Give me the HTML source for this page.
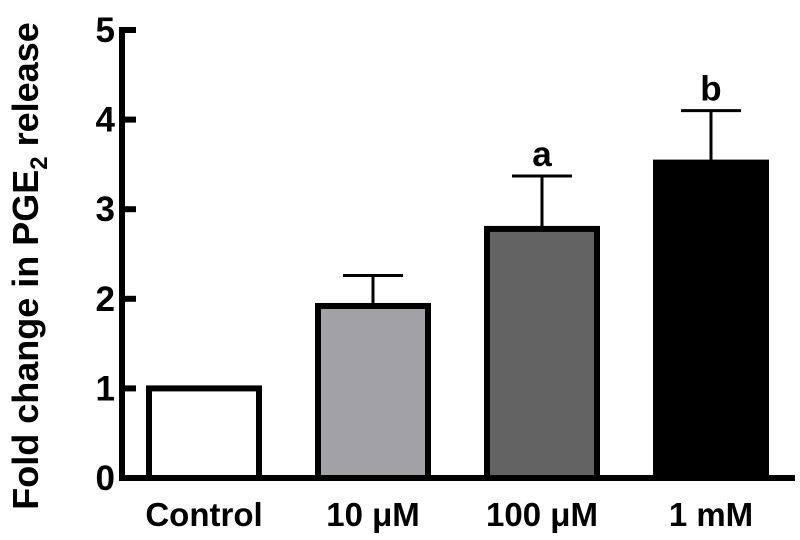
<!DOCTYPE html>
<html><head><meta charset="utf-8"><style>
html,body{margin:0;padding:0;background:#fff;}
svg text{font-family:"Liberation Sans",Arial,sans-serif;font-weight:bold;fill:#000;}
</style></head><body>
<svg width="800" height="535" viewBox="0 0 800 535">
<g id="plot"></g>
<text transform="translate(38,266) rotate(-90)" text-anchor="middle" font-size="36">Fold change in PGE<tspan font-size="24" dy="9">2</tspan><tspan dy="-9"> release</tspan></text>
</svg>
<script>
const categories = ["Control", "10 \u03bcM", "100 \u03bcM", "1 mM"];
const values = [1.0, 1.92, 2.78, 3.52];
const errors = [0, 0.34, 0.59, 0.58];
const letters = ["", "", "a", "b"];
const fills = ["#ffffff", "#a2a2a6", "#636363", "#000000"];
const yTicks = [0, 1, 2, 3, 4, 5];

const NS = "http://www.w3.org/2000/svg";
const g = document.getElementById("plot");
const y0 = 478, yTop = 30, yMax = 5;
const y = v => y0 - v / yMax * (y0 - yTop);
const bandStart = 146, bandStep = 169, barW = 116;
const xb = i => bandStart + i * bandStep;
function mk(tag, attrs) {
  const e = document.createElementNS(NS, tag);
  for (const k in attrs) e.setAttribute(k, attrs[k]);
  g.appendChild(e);
  return e;
}
categories.forEach((c, i) => {
  const x = xb(i), top = y(values[i]);
  if (errors[i] > 0) {
    const cx = x + barW / 2, et = y(values[i] + errors[i]);
    const el = mk("line", {x1: cx, x2: cx, y1: top, y2: et, stroke: "#000", "stroke-width": 3});
    
    
    const cap = mk("line", {x1: cx - 30, x2: cx + 30, y1: et, y2: et, stroke: "#000", "stroke-width": 3});
    
    
  }
  const r = mk("rect", {x: x + 3, y: top, width: barW - 6, height: y0 - top, fill: fills[i], stroke: "#000", "stroke-width": 6});
  
  
  const t = mk("text", {x: x + barW / 2, y: 526, "text-anchor": "middle", "font-size": 33});
  t.textContent = c;
  
  
  if (letters[i]) {
    const l = mk("text", {x: x + barW / 2, y: y(values[i] + errors[i]) - 10, "text-anchor": "middle", "font-size": 35});
    l.textContent = letters[i];
    
    
  }
});
const ax = mk("line", {x1: 122, x2: 122, y1: yTop - 3, y2: y0 + 3, stroke: "#000", "stroke-width": 6});


const bx = mk("line", {x1: 119, x2: 795, y1: y0, y2: y0, stroke: "#000", "stroke-width": 6});


yTicks.forEach(v => {
  const tk = mk("line", {x1: 122, x2: 136, y1: y(v), y2: y(v), stroke: "#000", "stroke-width": 6});
  
  
  const tl = mk("text", {x: 115, y: y(v) + 12, "text-anchor": "end", "font-size": 35});
  tl.textContent = v;
  
  
});
</script>
</body></html>
